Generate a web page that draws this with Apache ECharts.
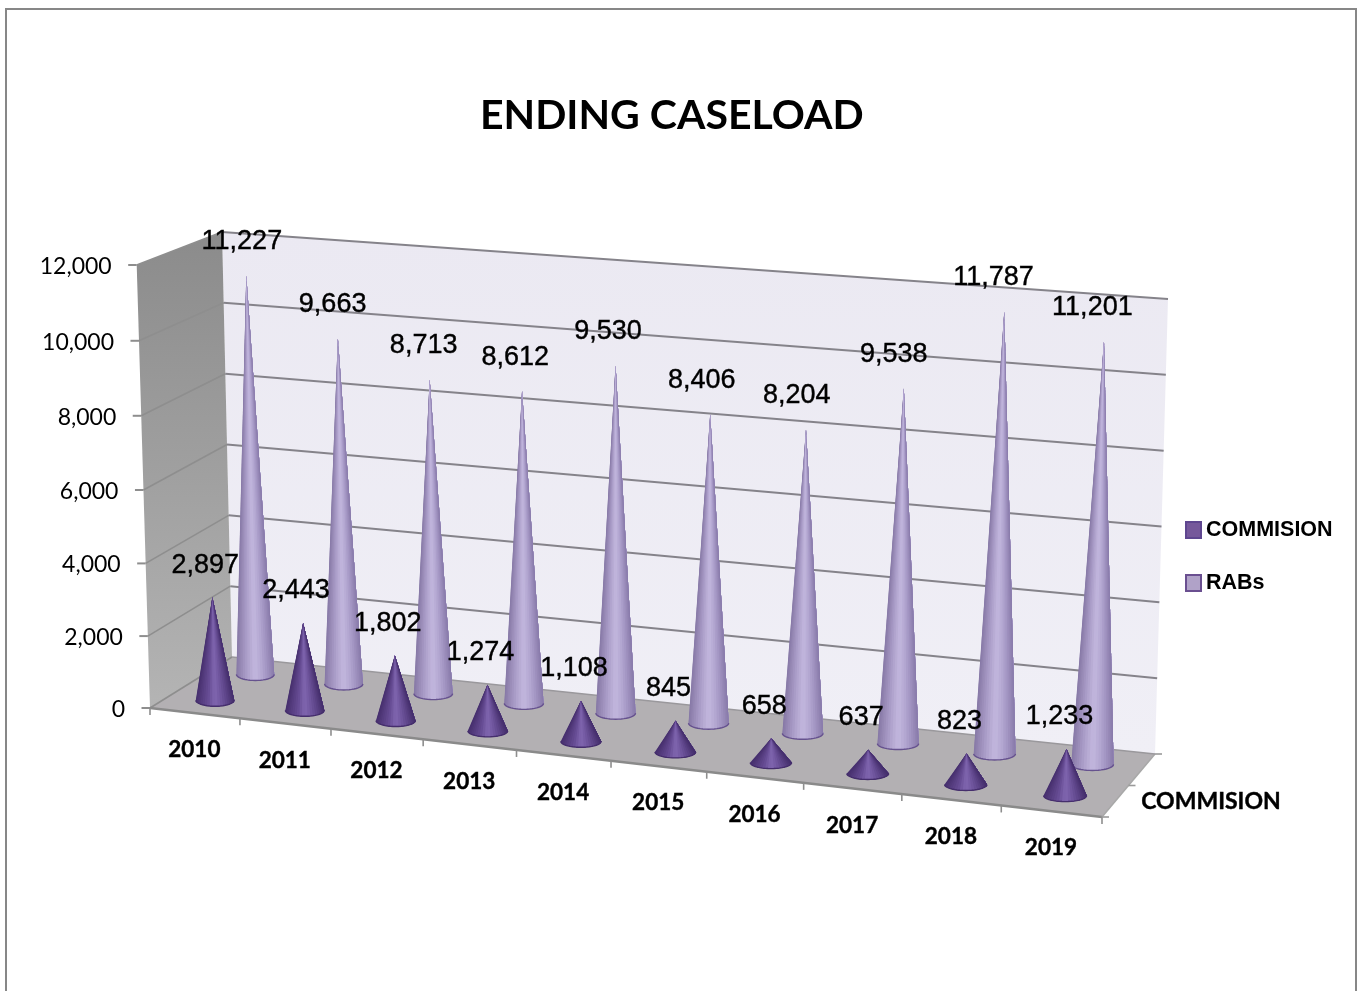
<!DOCTYPE html>
<html>
<head>
<meta charset="utf-8">
<style>html,body{margin:0;padding:0;background:#fff;overflow:hidden}#c{width:1361px;height:991px}</style>
<script src="https://cdn.jsdelivr.net/npm/echarts@6/dist/echarts.min.js"></script>
</head>
<body>
<div id="c"></div>
<script>
const categories = ['2010','2011','2012','2013','2014','2015','2016','2017','2018','2019'];
const commision = [2897,2443,1802,1274,1108,845,658,637,823,1233];
const rabs = [11227,9663,8713,8612,9530,8406,8204,9538,11787,11201];
const yTicks = [0,2000,4000,6000,8000,10000,12000];

// Corners of the drawn box: front/back, bottom/top, left/right.
const FBL=[150,708], FTL=[136.7,265], FBR=[1102,817], FTR=[1118,341];
const BBL=[232,657], BTL=[222,232], BBR=[1155,754], BTR=[1168,299];
const R_X=1.065, R_Y=1.032;
const lerp=(a,b,k)=>a+(b-a)*k;
const warp=(t,r)=>t/(t+r*(1-t));
function P(t,s,d){
  const u=warp(t,R_X), v=warp(s,lerp(R_Y,1,d));
  const out=[];
  for(let c=0;c<2;c++){
    const fb=lerp(FBL[c],FBR[c],u), ft=lerp(FTL[c],FTR[c],u);
    const bb=lerp(BBL[c],BBR[c],u), bt=lerp(BTL[c],BTR[c],u);
    out.push(lerp(lerp(fb,ft,v),lerp(bb,bt,v),d));
  }
  return out;
}
function frac(api,params,i,val){
  const p=api.coord([i,val]), g=params.coordSys;
  return [(p[0]-g.x)/g.width,(g.y+g.height-p[1])/g.height];
}
function stops(q,tbl){
  const k=(q+1)/2*(tbl.length-1), a=Math.min(Math.floor(k),tbl.length-2), f=k-a;
  const c=[0,1,2].map(j=>Math.round(lerp(tbl[a][j],tbl[a+1][j],f)));
  return 'rgb('+c.join(',')+')';
}
const SHADE_COM=[[70,47,110],[88,63,130],[104,78,150],[128,102,176],[112,86,158],[92,67,135],[68,46,108]];
const SHADE_RAB=[[134,120,166],[158,144,188],[178,165,207],[194,183,222],[180,168,210],[160,146,192],[136,122,170]];
const LABEL_FONT='27px "Liberation Sans"';
const AXIS_FONT='23px Lato';
const AXIS_BOLD='bold 22.5px Lato';
const DEPTH_FONT='bold 23px Lato';

function coneItem(depth,shade,rimColor,dxBase,dyLabel){
  return function(params,api){
    const i=api.value(0), val=api.value(1);
    const f=frac(api,params,i,val), t=f[0], s=f[1];
    const base=P(t,0,depth), lean=P(t,s,depth);
    const apex=[lean[0], base[1]-(P(t,0,1)[1]-P(t,s,1)[1])];
    const left=P(t-0.01,0,depth), right=P(t+0.01,0,depth);
    const rx=(right[0]-left[0])/0.02*0.1*0.215, ry=6;
    const n=22, pts=[];
    for(let k=0;k<=n;k++){
      const th=Math.PI*(1-k/n);
      pts.push([base[0]+rx*Math.cos(th),base[1]+ry*Math.sin(th)]);
    }
    const ch=[];
    for(let k=0;k<n;k++){
      const q=(Math.cos(Math.PI*(1-k/n))+Math.cos(Math.PI*(1-(k+1)/n)))/2;
      ch.push({type:'polygon',shape:{points:[apex].concat(pts.slice(k))},
        style:{fill:stops(q,shade)},silent:true});
    }
    ch.push({type:'polyline',shape:{points:pts},style:{fill:'none',stroke:rimColor,lineWidth:1.4},silent:true});
    ch.push({type:'text',z2:50,silent:true,style:{
      text:api.value(1).toLocaleString('en-US'),
      x:apex[0]+dxBase(t),y:apex[1]+dyLabel,
      align:'center',verticalAlign:'middle',font:LABEL_FONT,fill:'#000',stroke:'#000',lineWidth:0.4}});
    return {type:'group',children:ch};
  };
}

function frameItem(params,api){
  const ch=[], line='#8a8a8a';
  const poly=(pts,fill)=>ch.push({type:'polygon',shape:{points:pts},style:{fill},silent:true});
  const seg=(a,b,w,c)=>ch.push({type:'line',shape:{x1:a[0],y1:a[1],x2:b[0],y2:b[1]},style:{stroke:c||line,lineWidth:w},silent:true});
  const tx=(text,x,y,font,align,bold)=>ch.push({type:'text',silent:true,style:{text,x,y,font,fill:'#000',align:align||'center',verticalAlign:'middle',stroke:bold?'#000':null,lineWidth:bold?0.4:0}});
  poly([BTL,BTR,BBR,BBL],{type:'linear',x:0,y:0,x2:0,y2:1,colorStops:[{offset:0,color:'#ebe9f2'},{offset:1,color:'#f0eff6'}]});
  poly([FTL,BTL,BBL,FBL],{type:'linear',x:0,y:0,x2:0,y2:1,colorStops:[{offset:0,color:'#8b8b8b'},{offset:1,color:'#b4b4b4'}]});
  poly([FBL,FBR,BBR,BBL],'#b3b0b3');
  yTicks.forEach(v=>{
    const s=frac(api,params,0,v)[1];
    const a=P(0,s,0), b=P(0,s,1), c=P(1,s,1);
    seg(a,b,1.6,'#8e8e8e');
    if(v>0) seg(b,c,2,'#85838a');
    seg([a[0]-8.5,a[1]],a,2,'#8e8e8e');
    tx(v.toLocaleString('en-US'),a[0]-25,a[1]+1.5,AXIS_FONT,'right');
  });
  seg(P(0,0,0),P(1,0,0),2.4,'#8a8a8a');
  seg(P(1,0,0),P(1,0,1),1.5,'#a8a8a8');
  seg(P(0,0,1),P(1,0,1),1.5,'#9a989c');
  categories.forEach((c,i)=>{
    const t=frac(api,params,i,0)[0], band=1/categories.length;
    const a=P(t-band/2,0,0);
    seg(a,[a[0],a[1]+7],1.6,'#8e8e8e');
    const m=P(t,0,0);
    tx(c,m[0]-0.5,m[1]+37,AXIS_BOLD,'center',true);
  });
  const e=P(1,0,0);
  seg(e,[e[0],e[1]+7],1.6,'#8e8e8e');
  [0,0.5,1].forEach(d=>{const p=P(1,0,d);seg(p,[p[0]+7,p[1]],1.6,'#9a9a9a');});
  tx('COMMISION',1211,801.5,DEPTH_FONT,'center',true);
  return {type:'group',children:ch};
}

const chart=echarts.init(document.getElementById('c'),null,{renderer:'canvas'});
chart.setOption({
  animation:false,
  backgroundColor:'#fff',
  title:{text:'ENDING CASELOAD',left:475,top:90,textStyle:{fontFamily:'Lato',fontWeight:'bold',fontSize:41,color:'#000'}},
  grid:{left:150,top:265,width:953,height:443,containLabel:false},
  xAxis:{type:'category',data:categories,show:false},
  yAxis:{type:'value',min:0,max:12000,interval:2000,show:false},
  legend:{orient:'vertical',left:1180,top:514,itemWidth:15,itemHeight:16,itemGap:31,icon:'rect',
    data:['COMMISION','RABs'],selectedMode:false,
    textStyle:{fontFamily:'"Liberation Sans"',fontWeight:'bold',fontSize:21.5,lineHeight:16,color:'#000'}},
  graphic:[{type:'rect',silent:true,z:-1,shape:{x:6,y:9,width:1350,height:1000},style:{fill:'none',stroke:'#878787',lineWidth:2}}],
  series:[
    {name:'frame',type:'custom',z:1,renderItem:frameItem,data:[[0,0]],silent:true,clip:false,encode:{x:0,y:1}},
    {name:'RABs',type:'custom',z:2,clip:false,silent:true,
      renderItem:coneItem(0.75,SHADE_RAB,'#66528e',t=>-4-8*t,-34),
      itemStyle:{color:'#b0a2c8',borderColor:'#6a4f90',borderWidth:1.5},
      data:rabs.map((v,i)=>[i,v]),encode:{x:0,y:1}},
    {name:'COMMISION',type:'custom',z:3,clip:false,silent:true,
      renderItem:coneItem(0.25,SHADE_COM,'#452e6c',t=>-7,-32),
      itemStyle:{color:'#76589b',borderColor:'#5f4690',borderWidth:1.5},
      data:commision.map((v,i)=>[i,v]),encode:{x:0,y:1}}
  ]
});
</script>
</body>
</html>
